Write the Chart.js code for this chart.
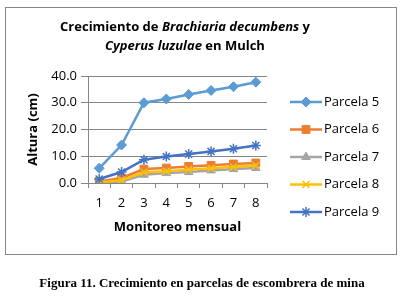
<!DOCTYPE html>
<html><head><meta charset="utf-8">
<script src="https://cdn.jsdelivr.net/npm/chart.js@4.4.1/dist/chart.umd.min.js"></script>
<style>html,body{margin:0;padding:0;background:#fff;}#wrap{width:405px;height:299px;position:relative;}</style>
</head><body><div id="wrap"><canvas id="c" width="405" height="299"></canvas></div>
<script>
const categories = ['1','2','3','4','5','6','7','8'];
const seriesNames = ['Parcela 5','Parcela 6','Parcela 7','Parcela 8','Parcela 9'];
const parcela5 = [5.5, 14.2, 30.0, 31.4, 33.1, 34.6, 36.0, 37.7];
const parcela6 = [0.6, 1.9, 5.2, 5.6, 6.2, 6.6, 7.1, 7.5];
const parcela7 = [0.2, 0.6, 3.1, 3.7, 4.1, 4.7, 5.2, 5.6];
const parcela8 = [0.3, 1.0, 4.0, 4.4, 5.0, 5.5, 6.0, 6.5];
const parcela9 = [1.5, 4.1, 8.7, 9.9, 10.8, 11.8, 12.8, 14.0];
const yTicks = [0, 10, 20, 30, 40];
const titleLine1 = [['Crecimiento de ', false], ['Brachiaria decumbens', true], [' y', false]];
const titleLine2 = [['Cyperus luzulae', true], [' en Mulch', false]];
const yTitle = 'Altura (cm)';
const xTitle = 'Monitoreo mensual';
const caption = 'Figura 11. Crecimiento en parcelas de escombrera de mina';

const SANS = "'Open Sans', sans-serif";
const colors = ['#5B9BD5', '#ED7D31', '#A5A5A5', '#FFC000', '#4472C4'];
const styles = ['rectRot', 'rect', 'triangle', 'crossRot', 'star'];
const radii = [5, 5.5, 5, 5, 5];
const allData = [parcela5, parcela6, parcela7, parcela8, parcela9];

const datasets = allData.map((d, i) => ({
  label: seriesNames[i], data: d,
  borderColor: colors[i], backgroundColor: colors[i],
  borderWidth: 2.5, pointStyle: styles[i], pointRadius: radii[i],
  pointBorderColor: colors[i], pointBackgroundColor: colors[i], pointBorderWidth: (styles[i]==='crossRot'||styles[i]==='star') ? 1.5 : 1,
  order: 5 - i, tension: 0
}));

const decor = {
  id: 'decor',
  afterDraw(chart) {
    const ctx = chart.ctx;
    ctx.save();
    ctx.strokeStyle = '#878787'; ctx.lineWidth = 1;
    ctx.strokeRect(5.5, 7.5, 391, 247);
    ctx.fillStyle = '#000'; ctx.textBaseline = 'middle';
    const drawRich = (segs, cx, cy) => {
      const fonts = segs.map(s => (s[1] ? 'italic ' : '') + 'bold 13px ' + SANS);
      let total = 0; const ws = [];
      segs.forEach((s, k) => { ctx.font = fonts[k]; const w = ctx.measureText(s[0]).width; ws.push(w); total += w; });
      let x = cx - total / 2;
      segs.forEach((s, k) => { ctx.font = fonts[k]; ctx.textAlign = 'left'; ctx.fillText(s[0], x, cy); x += ws[k]; });
    };
    drawRich(titleLine1, 185, 27);
    drawRich(titleLine2, 185, 46);
    const rows = [102, 129.5, 157, 184.5, 212];
    const helpers = Chart.helpers;
    chart.data.datasets.forEach((ds, i) => {
      const y = rows[i];
      ctx.strokeStyle = ds.borderColor; ctx.lineWidth = 2.5;
      ctx.beginPath(); ctx.moveTo(290, y); ctx.lineTo(322, y); ctx.stroke();
      if (helpers && helpers.drawPoint) {
        ctx.fillStyle = ds.backgroundColor; ctx.strokeStyle = ds.borderColor; ctx.lineWidth = ds.pointBorderWidth;
        helpers.drawPoint(ctx, {pointStyle: ds.pointStyle, radius: ds.pointRadius, rotation: 0, borderWidth: ds.pointBorderWidth}, 306, y);
      }
      ctx.fillStyle = '#000'; ctx.font = '13px ' + SANS; ctx.textAlign = 'left'; ctx.textBaseline = 'middle';
      ctx.fillText(ds.label, 324, y);
    });
    ctx.font = "bold 13px 'Liberation Serif', 'Times New Roman', serif";
    ctx.textAlign = 'center'; ctx.textBaseline = 'middle'; ctx.fillStyle = '#000';
    ctx.fillText(caption, 202, 284);
    ctx.restore();
  }
};

new Chart(document.getElementById('c'), {
  type: 'line',
  data: { labels: categories, datasets },
  options: {
    responsive: false, animation: false, devicePixelRatio: 1,
    layout: { padding: { left: 0, top: 76, right: 138, bottom: 56 } },
    plugins: { legend: { display: false }, tooltip: { enabled: false }, title: { display: false } },
    scales: {
      x: {
        type: 'category', offset: true,
        grid: { offset: true, drawOnChartArea: false, drawTicks: true, tickLength: 5, color: '#868686' },
        border: { display: true, color: '#868686' },
        ticks: { color: '#000', font: { family: SANS, size: 13 }, padding: 7, maxRotation: 0 },
        title: { display: true, text: xTitle, color: '#000', font: { family: SANS, size: 13, weight: 'bold' }, padding: { top: 0, bottom: 8 } },
        afterFit(s) { s.height = 60; }
      },
      y: {
        min: 0, max: 40,
        afterBuildTicks(s) { s.ticks = yTicks.map(v => ({ value: v })); },
        grid: { color: '#868686', drawTicks: true, tickLength: 7 },
        border: { display: true, color: '#868686' },
        ticks: { color: '#000', font: { family: SANS, size: 13 }, padding: 4, callback: v => Number(v).toFixed(1) },
        title: { display: true, text: yTitle, color: '#000', font: { family: SANS, size: 13, weight: 'bold' }, padding: { top: 25, bottom: 0 } },
        afterFit(s) { s.width = 88; }
      }
    }
  },
  plugins: [decor]
});
</script></body></html>
